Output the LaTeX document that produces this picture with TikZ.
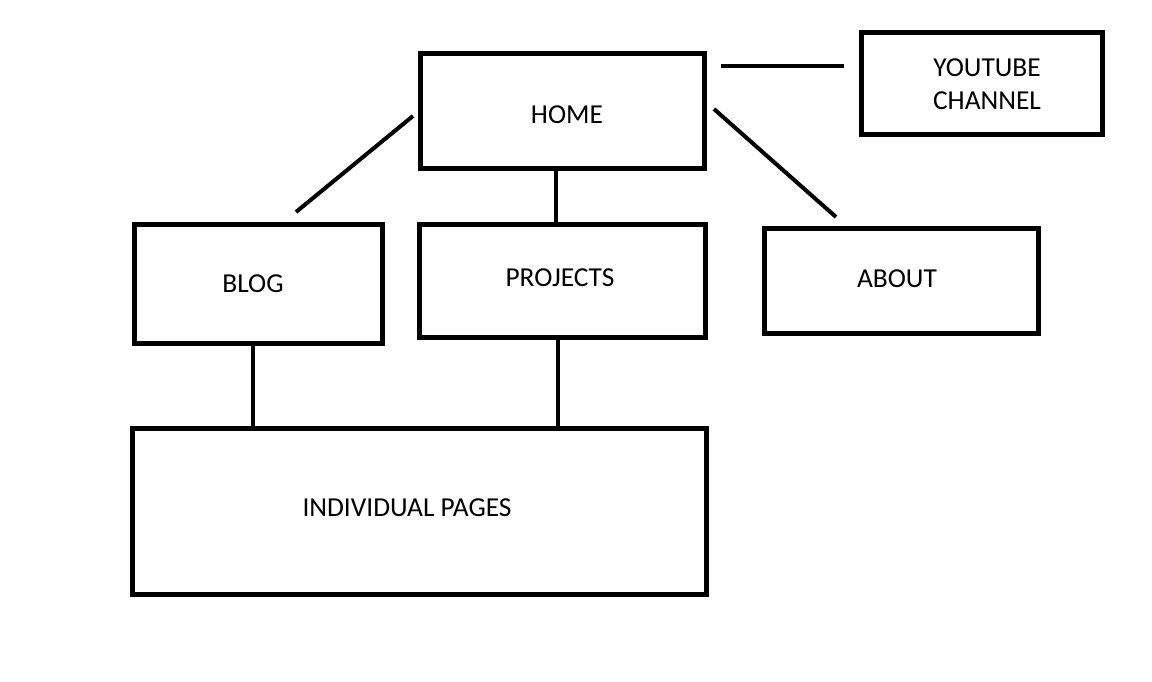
\documentclass[tikz,border=0pt]{standalone}
\usepackage{fontspec}
\setmainfont{Carlito}
\begin{document}
\begin{tikzpicture}[x=0.5pt,y=-0.5pt,
  box/.style={draw=black,line width=2.5pt,fill=white,inner sep=0pt},
  lbl/.style={font=\fontsize{13.7}{16.5}\selectfont,align=center,inner sep=0pt},
  link/.style={draw=black,line width=2pt}]
\useasboundingbox[fill=white] (0,0) rectangle (1152,681);
% boxes
\node[box,minimum width=142pt,minimum height=57.5pt] (home) at (562.5,111) {};
\node[box,minimum width=120.5pt,minimum height=51pt] (yt) at (982,83.5) {};
\node[box,minimum width=124pt,minimum height=59.5pt] (blog) at (258.5,284) {};
\node[box,minimum width=143pt,minimum height=56.5pt] (proj) at (562.5,281) {};
\node[box,minimum width=137pt,minimum height=52.5pt] (about) at (901.5,281) {};
\node[box,minimum width=287pt,minimum height=83pt] (ind) at (419.5,511.5) {};
% labels
\node[lbl] (home-t) at (567,115) {HOME};
\node[lbl] (yt-t) at (987,84) {YOUTUBE\\CHANNEL};
\node[lbl] (blog-t) at (253,284) {BLOG};
\node[lbl] (proj-t) at (560,278) {PROJECTS};
\node[lbl] (about-t) at (897,279) {ABOUT};
\node[lbl] (ind-t) at (407,508) {INDIVIDUAL PAGES};
% connectors (anchors sit on the outer edge of each border)
\draw[link] ([shift={(14,15)}]home.north east) -- ([shift={(-15,36)}]yt.north west);
\draw[link] ([shift={(-5,5)}]home.west) -- ([shift={(37.5,-10)}]blog.north);
\draw[link] ([shift={(-6.5,0)}]home.south) -- ([shift={(-6.5,0)}]proj.north);
\draw[link] ([shift={(7,-2)}]home.east) -- ([shift={(-65.5,-9)}]about.north);
\draw[link] ([shift={(-5.5,0)}]blog.south) -- ([shift={(123,0)}]ind.north west);
\draw[link] ([shift={(-4.5,0)}]proj.south) -- ([shift={(428,2)}]ind.north west);
\end{tikzpicture}
\end{document}
